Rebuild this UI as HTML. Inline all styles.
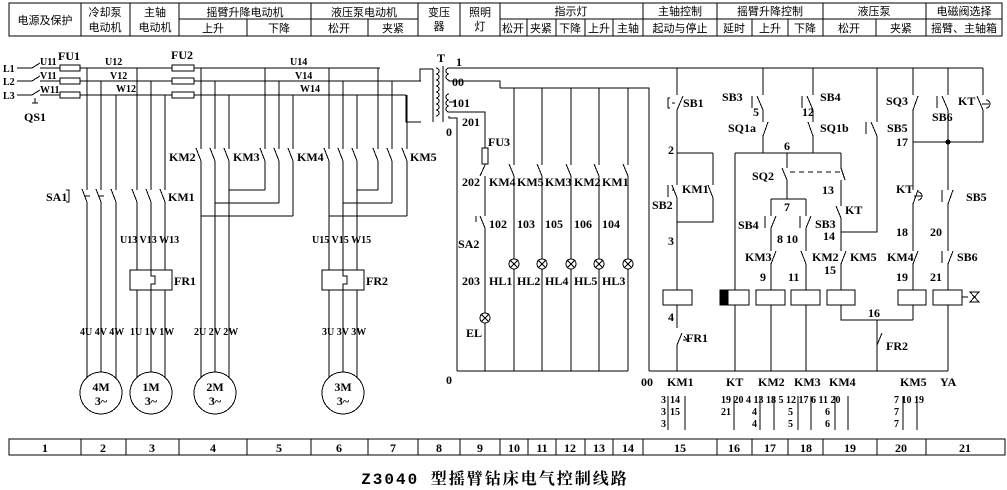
<!DOCTYPE html><html><head><meta charset="utf-8"><style>
body{margin:0;background:#fff}
svg{display:block}
.t{font-family:"Liberation Serif",serif;font-weight:bold;font-size:12px}
.s{font-family:"Liberation Serif",serif;font-weight:bold;font-size:10px}
.c{font-family:"Liberation Sans","Noto Sans CJK SC",sans-serif;font-size:11px}
</style></head><body>
<svg width="1007" height="490" viewBox="0 0 1007 490" stroke="#000" stroke-width="1" fill="none" shape-rendering="crispEdges">
<rect x="9" y="3" width="993" height="33"/>
<g>
<path d="M81 3V36M130 3V36M179 3V36M311 3V36M418 3V36M460 3V36M500 3V36M643 3V36M717 3V36M823 3V36M926 3V36"/>
<path d="M179 19H418M500 19H1002"/>
<path d="M247 19V36M368 19V36M527 19V36M556 19V36M585 19V36M613 19V36M752 19V36M788 19V36M876 19V36"/>
</g>
<g class="c" fill="#000" stroke="none" text-anchor="middle">
<text x="45" y="24">电源及保护</text>
<text x="105" y="16">冷却泵</text><text x="105" y="31">电动机</text>
<text x="155" y="16">主轴</text><text x="155" y="31">电动机</text>
<text x="245" y="16">摇臂升降电动机</text><text x="213" y="32">上升</text><text x="279" y="32">下降</text>
<text x="364" y="16">液压泵电动机</text><text x="339" y="32">松开</text><text x="393" y="32">夹紧</text>
<text x="439" y="16">变压</text><text x="439" y="30">器</text>
<text x="480" y="16">照明</text><text x="480" y="30">灯</text>
<text x="571" y="15">指示灯</text>
<text x="513" y="32">松开</text><text x="541" y="32">夹紧</text><text x="570" y="32">下降</text><text x="599" y="32">上升</text><text x="628" y="32">主轴</text>
<text x="680" y="15">主轴控制</text><text x="680" y="32">起动与停止</text>
<text x="770" y="15">摇臂升降控制</text><text x="734" y="32">延时</text><text x="770" y="32">上升</text><text x="805" y="32">下降</text>
<text x="874" y="15">液压泵</text><text x="849" y="32">松开</text><text x="901" y="32">夹紧</text>
<text x="964" y="15">电磁阀选择</text><text x="964" y="32">摇臂、主轴箱</text>
</g>

<path d="M17 68H32M17 81H32M17 95H32"/>
<path d="M32 68L40 63M32 81L40 76M32 95L40 90M35 98V103M32 103H38"/>
<path d="M40 68H380M40 81H421M40 95H406"/>
<rect x="60" y="65" width="20" height="6" fill="#fff"/><rect x="60" y="78" width="20" height="6" fill="#fff"/><rect x="60" y="92" width="20" height="6" fill="#fff"/>
<rect x="172" y="65" width="22" height="6" fill="#fff"/><rect x="172" y="78" width="22" height="6" fill="#fff"/><rect x="172" y="92" width="22" height="6" fill="#fff"/>
<g class="t" fill="#000" stroke="none">
<text x="3" y="72" class="s">L1</text><text x="3" y="85" class="s">L2</text><text x="3" y="99" class="s">L3</text>
<text x="40" y="65" class="s">U11</text><text x="40" y="79" class="s">V11</text><text x="40" y="93" class="s">W11</text>
<text x="58" y="60">FU1</text><text x="171" y="59">FU2</text><text x="24" y="121">QS1</text>
<text x="105" y="65" class="s">U12</text><text x="110" y="79" class="s">V12</text><text x="116" y="92" class="s">W12</text>
<text x="290" y="65" class="s">U14</text><text x="295" y="79" class="s">V14</text><text x="300" y="92" class="s">W14</text>
<text x="120" y="243" class="s">U13 V13 W13</text><text x="312" y="243" class="s">U15 V15 W15</text>
<text x="80" y="335" class="s">4U 4V 4W</text><text x="130" y="335" class="s">1U 1V 1W</text><text x="194" y="335" class="s">2U 2V 2W</text><text x="322" y="335" class="s">3U 3V 3W</text>
<text x="174" y="285">FR1</text><text x="366" y="285">FR2</text>
<text x="46" y="201">SA1</text><text x="168" y="201">KM1</text>
<text x="169" y="161">KM2</text><text x="233" y="161">KM3</text><text x="297" y="161">KM4</text><text x="410" y="161">KM5</text>
</g>
<path d="M87 68V385M101 81V372M116 95V385M137 68V385M151 81V372M165 95V385"/>
<path d="M201 68V385M215 81V372M229 95V385M265 68V190M279 81V203M293 95V216"/>
<path d="M329 68V385M343 81V372M357 95V385M378 68V190M392 81V203M407 95V216"/>
<path d="M229 190H265M215 203H279M201 216H293M357 190H378M343 203H392M329 216H407"/>
<g stroke="#fff" stroke-width="3">
<path d="M87 190V202M101 190V202M116 190V202M137 190V202M151 190V202M165 190V202"/>
<path d="M201 149V161M215 149V161M229 149V161M265 149V161M279 149V161M293 149V161M329 149V161M343 149V161M357 149V161M378 149V161M392 149V161M407 149V161"/>
</g>
<g>
<path d="M82 189L87 202M96 189L101 202M111 189L116 202M132 189L137 202M146 189L151 202M160 189L165 202"/>
<path d="M196 148L201 161M210 148L215 161M224 148L229 161M260 148L265 161M274 148L279 161M288 148L293 161M324 148L329 161M338 148L343 161M352 148L357 161M373 148L378 161M387 148L392 161M402 148L407 161"/>
<path d="M84 196H90M98 196H104M137 185V188M151 185V188M165 185V188M66 190H69V202H66"/>
</g>
<rect x="130" y="270" width="42" height="20" fill="#fff"/><path d="M151 270V276H155V284H151V290"/>
<rect x="322" y="270" width="42" height="20" fill="#fff"/><path d="M343 270V276H347V284H343V290"/>
<g fill="#fff"><circle cx="101" cy="393" r="21"/><circle cx="151" cy="393" r="21"/><circle cx="215" cy="393" r="21"/><circle cx="343" cy="393" r="21"/></g>
<g class="t" fill="#000" stroke="none" text-anchor="middle" font-size="11">
<text x="101" y="391">4M</text><text x="101" y="405">3~</text><text x="151" y="391">1M</text><text x="151" y="405">3~</text>
<text x="215" y="391">2M</text><text x="215" y="405">3~</text><text x="343" y="391">3M</text><text x="343" y="405">3~</text>
</g>

<path d="M406 95V122H421M420 81V69H433M433 69V122"/>
<path d="M436 68a3 3 0 0 1 0 6a3 3 0 0 1 0 6a3 3 0 0 1 0 6a3 3 0 0 1 0 6a3 3 0 0 1 0 6a3 3 0 0 1 0 6a3 3 0 0 1 0 6a3 3 0 0 1 0 6"/>
<path d="M443 66V122"/>
<path d="M449 68a3 3 0 0 0 0 6a3 3 0 0 0 0 6M449 94a3 3 0 0 0 0 6a3 3 0 0 0 0 6a3 3 0 0 0 0 6"/>
<path d="M449 68H983M449 80V81H500V88M449 102H455M449 112H485V371M449 116V118H457V371"/>
<path d="M500 88H649V371M457 371H628M649 371H948"/>
<g class="t" fill="#000" stroke="none">
<text x="437" y="62">T</text><text x="456" y="66">1</text><text x="452" y="86">00</text><text x="452" y="107">101</text>
<text x="462" y="126">201</text><text x="446" y="136">0</text><text x="446" y="384">0</text>
<text x="488" y="146">FU3</text><text x="462" y="186">202</text><text x="458" y="248">SA2</text><text x="462" y="285">203</text><text x="466" y="337">EL</text>
<text x="489" y="186">KM4</text><text x="517" y="186">KM5</text><text x="545" y="186">KM3</text><text x="574" y="186">KM2</text><text x="602" y="186">KM1</text>
<text x="489" y="228">102</text><text x="517" y="228">103</text><text x="545" y="228">105</text><text x="574" y="228">106</text><text x="602" y="228">104</text>
<text x="489" y="285">HL1</text><text x="517" y="285">HL2</text><text x="545" y="285">HL4</text><text x="574" y="285">HL5</text><text x="602" y="285">HL3</text>
</g>
<rect x="482" y="148" width="6" height="16" fill="#fff"/>
<path d="M514 88V371M542 88V371M571 88V371M599 88V371M628 88V371"/>
<g stroke="#fff" stroke-width="3"><path d="M485 165V176M485 216V228M514 165V176M542 165V176M571 165V176M599 165V176M628 165V176"/></g>
<path d="M485 165L480 176M509 164L514 176M537 164L542 176M566 164L571 176M594 164L599 176M623 164L628 176M480 216L485 228M476 216V222"/>
<g fill="#fff"><circle cx="485" cy="318" r="5"/><circle cx="514" cy="264" r="5"/><circle cx="542" cy="264" r="5"/><circle cx="571" cy="264" r="5"/><circle cx="599" cy="264" r="5"/><circle cx="628" cy="264" r="5"/></g>
<path d="M481 314l8 8M489 314l-8 8M510 260l8 8M518 260l-8 8M538 260l8 8M546 260l-8 8M567 260l8 8M575 260l-8 8M595 260l8 8M603 260l-8 8M624 260l8 8M632 260l-8 8"/>

<path d="M677 68V290M677 305V371M713 153V222H677M677 153H713"/>
<path d="M735 153V371M735 153H841M763 68V153M813 68V153M787 153V199M771 199H806M771 199V290M771 305V371M806 199V290M806 305V371"/>
<path d="M841 153V290M841 305V320H913M877 68V232H841M877 320V371M913 68V290M913 305V320M948 68V290M948 305V371M983 68V142H913"/>
<g stroke="#fff" stroke-width="3">
<path d="M677 95V110M677 185V198M713 185V198M677 328V345M763 95V110M763 122V136M813 95V110M813 122V136M877 122V136M913 95V110M948 95V110M983 95V110"/>
<path d="M787 168V180M841 168V180M841 206V218M771 216V228M806 216V228M771 251V264M806 251V264M841 251V264M913 190V204M913 251V264M948 190V204M948 251V264"/>
</g>
<g>
<path d="M677 110L683 96M670 98H668V108H670M672 103H675"/>
<path d="M677 198L672 185M668 185V197M672 190H674M713 198L708 185"/>
<path d="M677 345L682 333M684 336L687 340H683"/>
<path d="M763 110L757 96M752 96V108M763 136L768 122M813 110L807 96M802 96V108M813 136L808 122"/>
<path d="M877 136L871 122M866 122V134M913 110L918 96M948 110L942 96M937 96V108M983 110L977 96M986 100a4 4 0 0 1 0 8M982 104H989"/>
<path d="M787 180L782 168M841 168L845 180"/>
<path d="M771 228L776 216M765 216V228M806 228L811 216M800 216V228M771 264L776 251M806 264L801 251M841 264L846 251M913 264L918 251"/>
<path d="M841 218L836 206M913 204L918 190M918 192a4 4 0 0 1 0 8M914 196H922M948 204L953 190M942 190V202M948 264L953 251M942 251V263M877 345L882 333"/>
</g>
<path d="M790 172H841" stroke-dasharray="5,4"/>
<circle cx="948" cy="142" r="2" fill="#000"/>
<g fill="#fff">
<rect x="663" y="290" width="29" height="15"/><rect x="720" y="290" width="29" height="15"/><rect x="756" y="290" width="29" height="15"/>
<rect x="791" y="290" width="29" height="15"/><rect x="827" y="290" width="28" height="15"/><rect x="898" y="290" width="28" height="15"/><rect x="933" y="290" width="29" height="15"/>
</g>
<rect x="720" y="290" width="8" height="15" fill="#000"/>
<path d="M962 297H968M970 292H979L970 302H979Z"/>
<g class="t" fill="#000" stroke="none">
<text x="683" y="107">SB1</text><text x="722" y="101">SB3</text><text x="820" y="101">SB4</text>
<text x="753" y="116">5</text><text x="802" y="116">12</text><text x="728" y="132">SQ1a</text><text x="820" y="132">SQ1b</text>
<text x="887" y="132">SB5</text><text x="886" y="105">SQ3</text><text x="932" y="121">SB6</text><text x="958" y="105">KT</text>
<text x="668" y="154">2</text><text x="784" y="150">6</text><text x="896" y="146">17</text>
<text x="752" y="180">SQ2</text><text x="822" y="194">13</text><text x="845" y="214">KT</text><text x="823" y="240">14</text>
<text x="682" y="193">KM1</text><text x="652" y="209">SB2</text><text x="784" y="211">7</text>
<text x="738" y="229">SB4</text><text x="815" y="228">SB3</text><text x="777" y="243">8 10</text>
<text x="668" y="245">3</text><text x="896" y="193">KT</text><text x="966" y="201">SB5</text><text x="896" y="236">18</text><text x="930" y="236">20</text>
<text x="745" y="261">KM3</text><text x="812" y="261">KM2</text><text x="850" y="261">KM5</text><text x="887" y="261">KM4</text><text x="957" y="261">SB6</text>
<text x="824" y="274">15</text><text x="760" y="281">9</text><text x="788" y="281">11</text><text x="896" y="281">19</text><text x="930" y="281">21</text>
<text x="668" y="321">4</text><text x="868" y="317">16</text><text x="686" y="342">FR1</text><text x="886" y="350">FR2</text>
<text x="641" y="386">00</text><text x="667" y="386">KM1</text><text x="726" y="386">KT</text><text x="758" y="386">KM2</text><text x="794" y="386">KM3</text><text x="829" y="386">KM4</text><text x="900" y="386">KM5</text><text x="940" y="386">YA</text>
</g>
<g class="s" fill="#000" stroke="none">
<text x="661" y="403">3</text><text x="670" y="403">14</text><text x="661" y="415">3</text><text x="670" y="415">15</text><text x="661" y="427">3</text>
<text x="721" y="403">19 20 4 13 18 5 12 17 6 11 20</text><text x="721" y="415">21</text><text x="752" y="415">4</text><text x="788" y="415">5</text><text x="825" y="415">6</text>
<text x="752" y="427">4</text><text x="788" y="427">5</text><text x="825" y="427">6</text>
<text x="894" y="403">7 10 19</text><text x="894" y="415">7</text><text x="894" y="427">7</text>
</g>
<path d="M668 396V430M685 396V430M734 396V430M760 396V430M774 396V430M798 396V430M811 396V430M835 396V430M848 396V430M903 396V430M917 396V430"/>

<rect x="9" y="439" width="996" height="16"/>
<path d="M81 439V455M126 439V455M179 439V455M247 439V455M311 439V455M368 439V455M418 439V455M460 439V455M500 439V455M528 439V455M556 439V455M585 439V455M613 439V455M643 439V455M717 439V455M752 439V455M788 439V455M823 439V455M877 439V455M926 439V455"/>
<g class="t" fill="#000" stroke="none" text-anchor="middle">
<text x="45" y="452">1</text><text x="103" y="452">2</text><text x="152" y="452">3</text><text x="213" y="452">4</text><text x="279" y="452">5</text><text x="339" y="452">6</text><text x="393" y="452">7</text><text x="439" y="452">8</text><text x="480" y="452">9</text>
<text x="514" y="452">10</text><text x="542" y="452">11</text><text x="570" y="452">12</text><text x="599" y="452">13</text><text x="628" y="452">14</text><text x="680" y="452">15</text><text x="734" y="452">16</text><text x="770" y="452">17</text><text x="806" y="452">18</text><text x="850" y="452">19</text><text x="901" y="452">20</text><text x="965" y="452">21</text>
</g>
<text x="495" y="484" text-anchor="middle" fill="#000" stroke="none" style="font-family:'Liberation Mono','Noto Serif CJK SC',serif;font-weight:bold;font-size:16px;letter-spacing:2px">Z3040 型摇臂钻床电气控制线路</text>
</svg>
</body></html>
